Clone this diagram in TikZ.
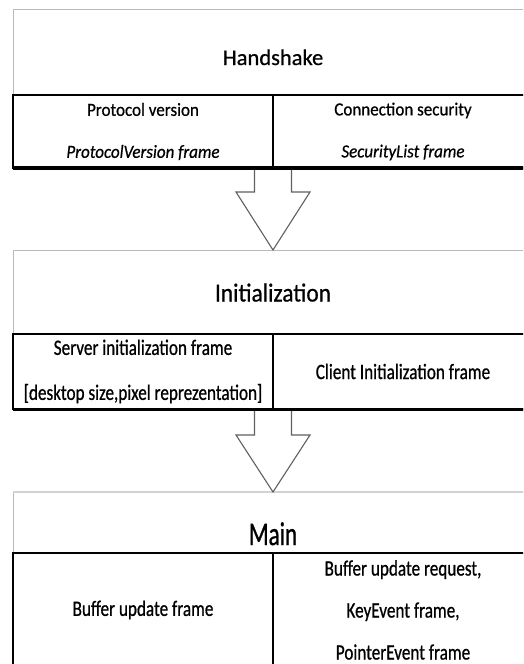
\documentclass[tikz,border=0pt]{standalone}
\usepackage{fontspec}
\setmainfont{Carlito}
\newfontfamily\hsfont[FakeBold=0.6]{Carlito}
\newfontfamily\hsrowfont[FakeStretch=0.92,FakeBold=0.6]{Carlito}
\newfontfamily\initfont[FakeStretch=0.9,FakeBold=0.6]{Carlito}
\newfontfamily\rowfont[FakeStretch=0.78,FakeBold=0.7]{Carlito}
\newfontfamily\maintitlefont[FakeStretch=0.7,FakeBold=0.8]{Carlito}
\usetikzlibrary{positioning}

\tikzset{
	titlebox/.style={draw=gray!55, line width=0.8pt, minimum width=520pt, inner sep=0pt, outer sep=0pt, text depth=0pt},
	cellbox/.style={draw=black, line width=1.1pt, minimum width=260pt, inner sep=0pt, outer sep=0pt, align=center},
	flowarrow/.style={draw=gray!75!black, line width=1.1pt, fill=white, line join=miter}
}

\begin{document}
\begin{tikzpicture}[x=1pt, y=-1pt]
			\useasboundingbox (0,0) rectangle (523,664);
			\clip (0,0) rectangle (523,664);
			\fill[white] (0,0) rectangle (523,664);

			% Handshake
			\node[titlebox, minimum height=86pt, text height=26pt, font=\hsfont\fontsize{22.5}{22.5}\selectfont] (hs) at (273,52) {Handshake};
			\node[cellbox, minimum height=73pt, anchor=north east, font=\hsrowfont\fontsize{18.5}{42}\selectfont] (pv) at (hs.south) {Protocol version\\\textit{ProtocolVersion frame}};
			\node[cellbox, minimum height=73pt, anchor=north west, font=\hsrowfont\fontsize{18.5}{42}\selectfont] (cs) at (hs.south) {Connection security\\\textit{SecurityList frame}};

			% Initialization
			\node[titlebox, minimum height=84pt, text height=19pt, below=82pt of pv.south east, anchor=north, font=\initfont\fontsize{26}{26}\selectfont] (init) {Initialization};
			\node[cellbox, minimum height=75pt, anchor=north east, font=\rowfont\fontsize{22}{45}\selectfont] (sif) at (init.south) {Server initialization frame\\{[desktop size,pixel reprezentation]}};
			\node[cellbox, minimum height=75pt, anchor=north west, font=\rowfont\fontsize{22}{45}\selectfont] (cif) at (init.south) {Client Initialization frame};

			% Main
			\node[titlebox, minimum height=61pt, text height=45pt, below=83pt of sif.south east, anchor=north, font=\maintitlefont\fontsize{33}{33}\selectfont] (main) {Main};
			\draw[gray!35, line width=2.5pt] (main.north west) -- (main.north east);
			\node[cellbox, minimum height=114pt, anchor=north east, font=\rowfont\fontsize{22}{42}\selectfont] (buf) at (main.south) {Buffer update frame};
			\node[cellbox, minimum height=114pt, anchor=north west, font=\rowfont\fontsize{22}{42}\selectfont] (req) at (main.south) {Buffer update request,\\KeyEvent frame,\\PointerEvent frame};

			% arrows
			\draw[flowarrow] ([xshift=-18.5pt]pv.south east) -- ([xshift=-18.5pt,yshift=-24pt]pv.south east) -- ([xshift=-37pt,yshift=-24pt]pv.south east) -- (init.north) -- ([xshift=37pt,yshift=-24pt]pv.south east) -- ([xshift=18.5pt,yshift=-24pt]pv.south east) -- ([xshift=18.5pt]pv.south east);
			\draw[flowarrow] ([xshift=-18.5pt]sif.south east) -- ([xshift=-18.5pt,yshift=-26pt]sif.south east) -- ([xshift=-37pt,yshift=-26pt]sif.south east) -- (main.north) -- ([xshift=37pt,yshift=-26pt]sif.south east) -- ([xshift=18.5pt,yshift=-26pt]sif.south east) -- ([xshift=18.5pt]sif.south east);
			\draw[line width=3.5pt] (pv.south west) -- (cs.south east);
			\draw[line width=3pt] (sif.south west) -- (cif.south east);
		\end{tikzpicture}
\end{document}
